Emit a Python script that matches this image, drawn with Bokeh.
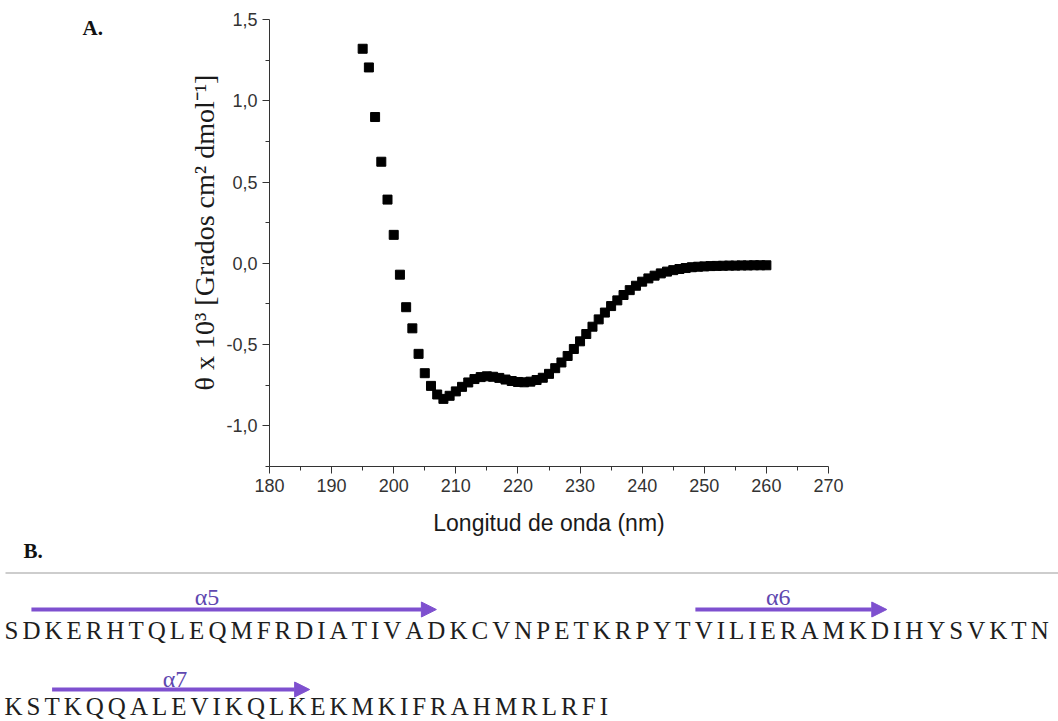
import numpy as np
from bokeh.plotting import figure
from bokeh.models import (Range1d, FixedTicker, Arrow, NormalHead, ColumnDataSource,
                          LinearAxis)
from bokeh.core.properties import value
from bokeh.embed import file_html
from bokeh.resources import INLINE

# ---------------- data ----------------
wavelength_nm = [195, 196, 197, 198, 199, 200, 201, 202, 203, 204, 205, 206, 207, 208, 209, 210,
                 211, 212, 213, 214, 215, 216, 217, 218, 219, 220, 221, 222, 223, 224, 225, 226,
                 227, 228, 229, 230, 231, 232, 233, 234, 235, 236, 237, 238, 239, 240, 241, 242,
                 243, 244, 245, 246, 247, 248, 249, 250, 251, 252, 253, 254, 255, 256, 257, 258,
                 259, 260]
theta_x1e3 = [1.32, 1.205, 0.90, 0.625, 0.392, 0.175, -0.07, -0.27, -0.40, -0.557, -0.676, -0.754,
              -0.807, -0.834, -0.815, -0.788, -0.76, -0.733, -0.712, -0.70, -0.695, -0.698, -0.705,
              -0.715, -0.724, -0.73, -0.732, -0.728, -0.718, -0.704, -0.68, -0.645, -0.61, -0.57,
              -0.527, -0.48, -0.435, -0.39, -0.345, -0.303, -0.263, -0.228, -0.195, -0.165, -0.138,
              -0.113, -0.093, -0.076, -0.062, -0.051, -0.042, -0.035, -0.029, -0.024, -0.021, -0.019,
              -0.017, -0.016, -0.015, -0.014, -0.014, -0.013, -0.013, -0.012, -0.012, -0.012]

x_ticks = [180, 190, 200, 210, 220, 230, 240, 250, 260, 270]
y_ticks = [-1.0, -0.5, 0.0, 0.5, 1.0, 1.5]
y_tick_labels = ["-1,0", "-0,5", "0,0", "0,5", "1,0", "1,5"]
x_bounds = (180, 270)
y_bounds = (-1.25, 1.5)

x_label = "Longitud de onda (nm)"
y_label = "θ  x 10³ [Grados cm² dmol⁻¹]"

seq_lines = ["SDKERHTQLEQMFRDIATIVADKCVNPETKRPYTVILIERAMKDIHYSVKTN",
             "KSTKQQALEVIKQLKEKMKIFRAHMRLRFI"]
helix_names = ["α5", "α6", "α7"]
helix_line = [0, 0, 1]
helix_start = [1, 33.6, 2]
helix_end = [21, 43.4, 14.6]
helix_label_pos = [9.5, 38.5, 7.8]

# ---------------- layout constants (page pixels) ----------------
W, H = 1058, 721
FL, FR, FT, FB = 269, 828, 19, 466      # where the chart's axes box sits on the page

sx = (x_bounds[1] - x_bounds[0]) / (FR - FL)
sy = (y_bounds[1] - y_bounds[0]) / (FB - FT)
x_range = Range1d(x_bounds[0] - FL * sx, x_bounds[1] + (W - FR) * sx)
y_range = Range1d(y_bounds[0] - (H - FB) * sy, y_bounds[1] + FT * sy)

p = figure(width=W, height=H, x_range=x_range, y_range=y_range,
           output_backend="svg", toolbar_location=None, title=None,
           x_axis_location=None, y_axis_location=None, min_border=0)
p.extra_x_ranges = {"px": Range1d(0, W)}
p.extra_y_ranges = {"px": Range1d(H, 0)}
p.grid.visible = False
p.outline_line_color = None
p.background_fill_color = "white"
p.border_fill_color = "white"

# ---------------- panel A ----------------
p.scatter(wavelength_nm, theta_x1e3, marker="square", size=9,
          fill_color="black", line_color="black")

x_minor = [(a + b) / 2 for a, b in zip(x_ticks[:-1], x_ticks[1:])]
y_minor = [(a + b) / 2 for a, b in zip(y_ticks[:-1], y_ticks[1:])] + [y_ticks[0] - 0.25]

xaxis = LinearAxis(fixed_location=y_bounds[0], bounds=x_bounds,
                   ticker=FixedTicker(ticks=x_ticks, minor_ticks=x_minor),
                   axis_label=x_label)
yaxis = LinearAxis(fixed_location=x_bounds[0], bounds=y_bounds,
                   ticker=FixedTicker(ticks=y_ticks, minor_ticks=y_minor),
                   major_label_overrides={t: s for t, s in zip(y_ticks, y_tick_labels)})

for ax in (xaxis, yaxis):
    ax.axis_line_color = "#333333"
    ax.axis_line_width = 1
    ax.major_tick_line_color = "#333333"
    ax.minor_tick_line_color = "#333333"
    ax.major_tick_out = 7
    ax.major_tick_in = 0
    ax.minor_tick_out = 4
    ax.minor_tick_in = 0
    ax.major_label_text_font = "Liberation Sans"
    ax.major_label_text_font_size = "18px"
    ax.major_label_text_color = "#333333"
    ax.major_label_standoff = 5
    ax.axis_label_text_font_style = "normal"
    ax.axis_label_text_color = "#1a1a1a"

xaxis.axis_label_text_font = "Liberation Sans"
xaxis.axis_label_text_font_size = "23px"
xaxis.axis_label_standoff = 15

# the y title sits a little above the centre of the axis in the reference:
# a companion axis (no line, no ticks) carries only the title
ylab_axis = LinearAxis(fixed_location=x_bounds[0], bounds=(-1.08, 1.5),
                       ticker=FixedTicker(ticks=[]), axis_label=y_label,
                       axis_line_color=None, major_tick_line_color=None,
                       minor_tick_line_color=None, major_tick_out=0, minor_tick_out=0,
                       major_label_text_font_size="0px",
                       axis_label_text_font="Liberation Serif",
                       axis_label_text_font_size="28px",
                       axis_label_text_font_style="normal",
                       axis_label_text_color="#1a1a1a",
                       axis_label_standoff=50)

p.add_layout(xaxis, "below")
p.add_layout(yaxis, "left")
p.add_layout(ylab_axis, "left")

# ---------------- page texts (pixel coordinates) ----------------
PX = dict(x_range_name="px", y_range_name="px")

p.text(x=[82], y=[27.5], text=["A."], text_font=value("Liberation Serif"),
       text_font_style="bold", text_font_size=value("21px"), text_color="#111111",
       text_align="left", text_baseline="middle", **PX)
p.text(x=[23], y=[550.5], text=["B."], text_font=value("Liberation Serif"),
       text_font_style="bold", text_font_size=value("21px"), text_color="#111111",
       text_align="left", text_baseline="middle", **PX)

p.segment(x0=[5], y0=[572.5], x1=[W], y1=[572.5], line_color="#bdbdbd",
          line_width=1.5, **PX)

# ---------------- panel B: sequence ----------------
adv = {"A": .722, "C": .667, "D": .722, "E": .611, "F": .556, "H": .722, "I": .333,
       "K": .722, "L": .611, "M": .889, "N": .722, "P": .556, "Q": .722, "R": .667,
       "S": .556, "T": .611, "V": .722, "Y": .722}
FS = 25.0
TRACK = 4.0
X0 = 4.0
line_mid = [630.0, 705.5]          # vertical centre of the capitals of each line
arrow_y = [609.0, 689.0]
label_mid = [596.0, 678.0]

centers = []
xs, ys, chars = [], [], []
for li, seq in enumerate(seq_lines):
    w = np.array([adv[c] * FS for c in seq])
    left = X0 + np.concatenate([[0], np.cumsum(w[:-1] + TRACK)])
    centers.append(left + w / 2)
    xs += list(left)
    ys += [line_mid[li]] * len(seq)
    chars += list(seq)

p.text(x=xs, y=ys, text=chars, text_font=value("Liberation Serif"),
       text_font_size=value("25px"), text_color="#1e1e1e",
       text_align="left", text_baseline="middle", **PX)

def res_x(line, r):
    c = centers[line]
    return float(np.interp(r, np.arange(len(c)), c))

purple = "#7e50cf"
src = ColumnDataSource(dict(
    x0=[res_x(l, s) for l, s in zip(helix_line, helix_start)],
    x1=[res_x(l, e) for l, e in zip(helix_line, helix_end)],
    y=[arrow_y[l] for l in helix_line],
))
p.add_layout(Arrow(end=NormalHead(size=15, fill_color=purple, line_color=purple),
                   x_start="x0", y_start="y", x_end="x1", y_end="y",
                   line_color=purple, line_width=4, source=src, **PX))

p.text(x=[res_x(l, r) for l, r in zip(helix_line, helix_label_pos)],
       y=[label_mid[l] for l in helix_line], text=helix_names,
       text_font=value("Liberation Serif"), text_font_size=value("24px"),
       text_color="#6048b0", text_align="center", text_baseline="middle", **PX)

open("out.html", "w").write(file_html(p, INLINE))
